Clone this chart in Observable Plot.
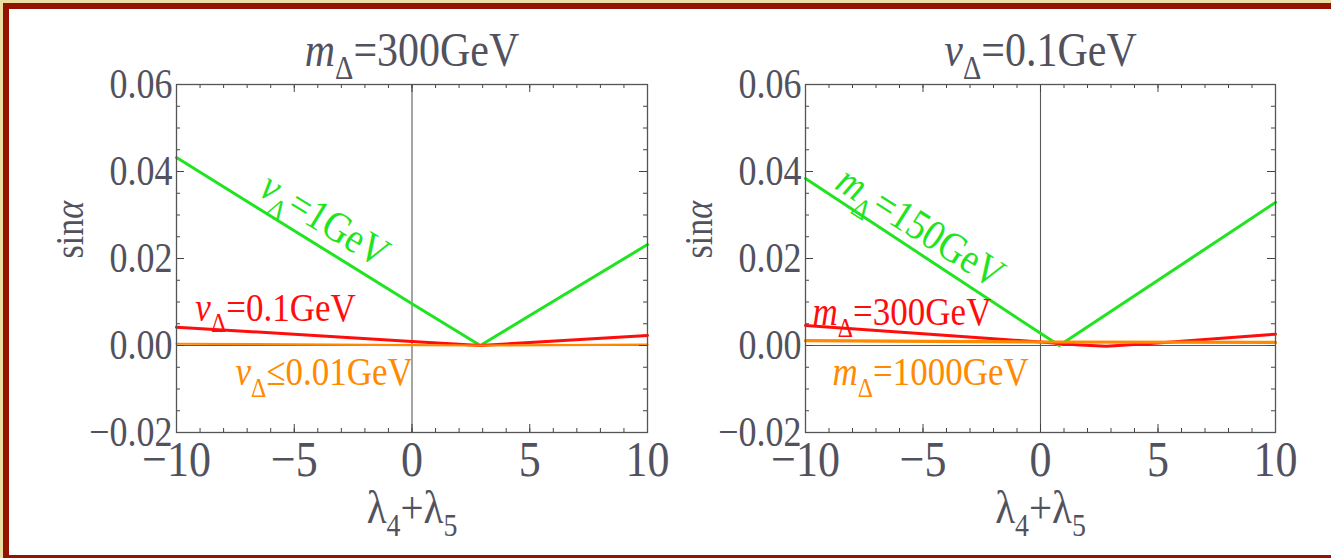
<!DOCTYPE html>
<html>
<head>
<meta charset="utf-8">
<script src="https://cdn.jsdelivr.net/npm/d3@7"></script>
<script src="https://cdn.jsdelivr.net/npm/@observablehq/plot@0.6"></script>
<style>
  html, body { margin: 0; padding: 0; background: #fff; }
  #page { position: relative; width: 1331px; height: 558px; overflow: hidden; background: #fff; }
  #page svg { position: absolute; top: 0; }
  #edge { position: absolute; left: 0; top: 0; width: 1331px; height: 558px; box-sizing: border-box;
          border-top: 3px solid #ecdfa3; border-left: 3px solid #ecdfa3; pointer-events: none; z-index: 2; }
  #edge > div { position: absolute; left: 0; top: 0; right: 0; bottom: 0; box-sizing: border-box;
          border-top: 6px solid #931300; border-left: 6px solid #931300; border-bottom: 3px solid #931300; }
</style>
</head>
<body>
<div id="page"><div id="edge"><div></div></div></div>
<script>
// ---- axis ticks and labels -------------------------------------------------
const xMajor = [-10, -5, 0, 5, 10];
const xTickLabels = ["−10", "−5", "0", "5", "10"];
const xMinor = [-10, -9, -8, -7, -6, -5, -4, -3, -2, -1, 0, 1, 2, 3, 4, 5, 6, 7, 8, 9, 10];
const yMajor = [-0.02, 0, 0.02, 0.04, 0.06];
const yTickLabels = ["−0.02", "0.00", "0.02", "0.04", "0.06"];
const yMinor = [-0.02, -0.015, -0.01, -0.005, 0, 0.005, 0.01, 0.015, 0.02, 0.025, 0.03, 0.035, 0.04, 0.045, 0.05, 0.055, 0.06];

// ---- left panel: m_Δ = 300 GeV, varying v_Δ --------------------------------
const lamV1 = [-10, -5, 0, 2.9, 5, 10];
const sinV1 = [0.0432, 0.0264, 0.0096, 0, 0.0069, 0.0232];
const lamV01 = [-10, -5, 0, 2.9, 5, 10];
const sinV01 = [0.0042, 0.0026, 0.0009, 0, 0.0007, 0.0023];
const lamV001 = [-10, 0, 2.9, 10];
const sinV001 = [0.0004, 0.0001, 0, 0.0002];

// ---- right panel: v_Δ = 0.1 GeV, varying m_Δ -------------------------------
const lamM150 = [-10, -5, 0, 0.8, 5, 10];
const sinM150 = [0.0384, 0.0206, 0.0028, 0, 0.0150, 0.0329];
const lamM300 = [-10, -5, 0, 1.5, 2.8, 5, 10];
const sinM300 = [0.0046, 0.0027, 0.0008, 0.0002, -0.0002, 0.0006, 0.0026];
const lamM1000 = [-10, 0, 10];
const sinM1000 = [0.0011, 0.0008, 0.0007];

const GREEN = "#1fe41f", RED = "#ff0d0d", ORANGE = "#ff8a00", INK = "#52525e";
// the typeface is drawn taller and narrower: font size grows by K, width shrinks by 1/K
const K = 1.15;

const rows = (lam, s) => lam.map((l, i) => ({lam: l, s: s[i]}));
const fmt = (ticks, labels) => { const m = new Map(ticks.map((t, i) => [t, labels[i]])); return d => m.get(d); };

// "*x*" = italic run, "_c" = subscript character; then narrow every glyph run
function enrich(svg) {
  const NS = "http://www.w3.org/2000/svg";
  svg.querySelectorAll("text").forEach(t => {
    const s = t.textContent;
    if (/[_*]/.test(s)) {
      t.textContent = "";
      const re = /\*([^*]+)\*|_(.)|([^*_]+)/g;
      let m, lowered = false;
      while ((m = re.exec(s))) {
        const ts = document.createElementNS(NS, "tspan");
        if (m[2]) {
          ts.textContent = m[2];
          ts.setAttribute("font-size", "0.68em");
          ts.setAttribute("dy", "0.42em");
          lowered = true;
        } else {
          ts.textContent = m[1] || m[3];
          if (m[1]) ts.setAttribute("font-style", "italic");
          if (lowered) { ts.setAttribute("dy", "-0.285em"); lowered = false; }
        }
        t.appendChild(ts);
      }
    }
    let tr = t.getAttribute("transform") || "";
    const x = t.getAttribute("x");
    if (x != null && !isNaN(+x)) { tr += ` translate(${+x},0)`; t.removeAttribute("x"); }
    t.setAttribute("transform", `${tr} scale(${1 / K},1)`);
  });
}

function panel({width, marginLeft, marginRight, title, series, notes}) {
  const height = 558, marginTop = 84, marginBottom = 126;
  const fw = width - marginLeft - marginRight, fh = height - marginTop - marginBottom;
  const tickLen = 4, majorLen = 8;
  return Plot.plot({
    width, height, marginLeft, marginRight, marginTop, marginBottom,
    style: {background: "transparent", fontFamily: "'Liberation Serif', serif", color: INK},
    x: {domain: [-10, 10]},
    y: {domain: [-0.02, 0.06]},
    marks: [
      // coordinate axes through the origin
      Plot.ruleX([0], {stroke: "#5a5a5a", strokeWidth: 1.1}),
      Plot.ruleY([0], {stroke: "#5a5a5a", strokeWidth: 1.1}),
      // curves
      ...series.map(({lam, s, color, width: w}) =>
        Plot.line(rows(lam, s), {x: "lam", y: "s", stroke: color, strokeWidth: w})),
      // inward frame ticks on all four sides
      Plot.tickX(xMinor, {x: d => d, insetTop: fh - tickLen, stroke: "#444"}),
      Plot.tickX(xMinor, {x: d => d, insetBottom: fh - tickLen, stroke: "#444"}),
      Plot.tickX(xMajor, {x: d => d, insetTop: fh - majorLen, stroke: "#444"}),
      Plot.tickX(xMajor, {x: d => d, insetBottom: fh - majorLen, stroke: "#444"}),
      Plot.tickY(yMinor, {y: d => d, insetRight: fw - tickLen, stroke: "#444"}),
      Plot.tickY(yMinor, {y: d => d, insetLeft: fw - tickLen, stroke: "#444"}),
      Plot.tickY(yMajor, {y: d => d, insetRight: fw - majorLen, stroke: "#444"}),
      Plot.tickY(yMajor, {y: d => d, insetLeft: fw - majorLen, stroke: "#444"}),
      Plot.frame({stroke: "#555", strokeWidth: 1.3}),
      // tick labels
      Plot.axisX({ticks: xMajor, tickSize: 0, tickPadding: 8, tickFormat: fmt(xMajor, xTickLabels), fontSize: 44 * K, label: null}),
      Plot.axisY({ticks: yMajor, tickSize: 0, tickPadding: 4, tickFormat: fmt(yMajor, yTickLabels), fontSize: 36 * K, label: null}),
      // titles and axis names
      Plot.text([title], {frameAnchor: "top", dy: -19, fontSize: 42 * K, fill: INK, lineAnchor: "bottom"}),
      Plot.text(["sin*α*"], {frameAnchor: "left", dx: -106, rotate: -90, fontSize: 34 * K, fill: INK}),
      Plot.text(["λ_4+λ_5"], {frameAnchor: "bottom", dy: 90, fontSize: 41 * K, fill: INK}),
      // curve annotations
      ...notes.map(n => Plot.text([n.text], {x: () => n.x, y: () => n.y, rotate: n.rotate || 0,
        textAnchor: n.anchor, fontSize: n.size * K, fill: n.color}))
    ]
  });
}

const left = panel({
  width: 700, marginLeft: 176, marginRight: 53,
  title: "*m*_Δ=300GeV",
  series: [
    {lam: lamV1, s: sinV1, color: GREEN, width: 3},
    {lam: lamV01, s: sinV01, color: RED, width: 3},
    {lam: lamV001, s: sinV001, color: ORANGE, width: 2.2}
  ],
  notes: [
    {text: "*ν*_Δ=1GeV", x: -3.7, y: 0.0289, rotate: 31.5, anchor: "middle", size: 37, color: GREEN},
    {text: "*ν*_Δ=0.1GeV", x: -9.2, y: 0.0087, anchor: "start", size: 35, color: RED},
    {text: "*ν*_Δ≤0.01GeV", x: -7.5, y: -0.0062, anchor: "start", size: 35, color: ORANGE}
  ]
});

const right = panel({
  width: 666, marginLeft: 140, marginRight: 56,
  title: "*ν*_Δ=0.1GeV",
  series: [
    {lam: lamM150, s: sinM150, color: GREEN, width: 3},
    {lam: lamM300, s: sinM300, color: RED, width: 3},
    {lam: lamM1000, s: sinM1000, color: ORANGE, width: 3.2}
  ],
  notes: [
    {text: "*m*_Δ=150GeV", x: -5.1, y: 0.0272, rotate: 32.5, anchor: "middle", size: 37, color: GREEN},
    {text: "*m*_Δ=300GeV", x: -9.7, y: 0.0076, anchor: "start", size: 35, color: RED},
    {text: "*m*_Δ=1000GeV", x: -8.85, y: -0.0062, anchor: "start", size: 35, color: ORANGE}
  ]
});

enrich(left); enrich(right);
left.style.left = "0px";
right.style.left = "665px";
const page = document.getElementById("page");
page.insertBefore(right, page.firstChild);
page.insertBefore(left, page.firstChild);
</script>
</body>
</html>
